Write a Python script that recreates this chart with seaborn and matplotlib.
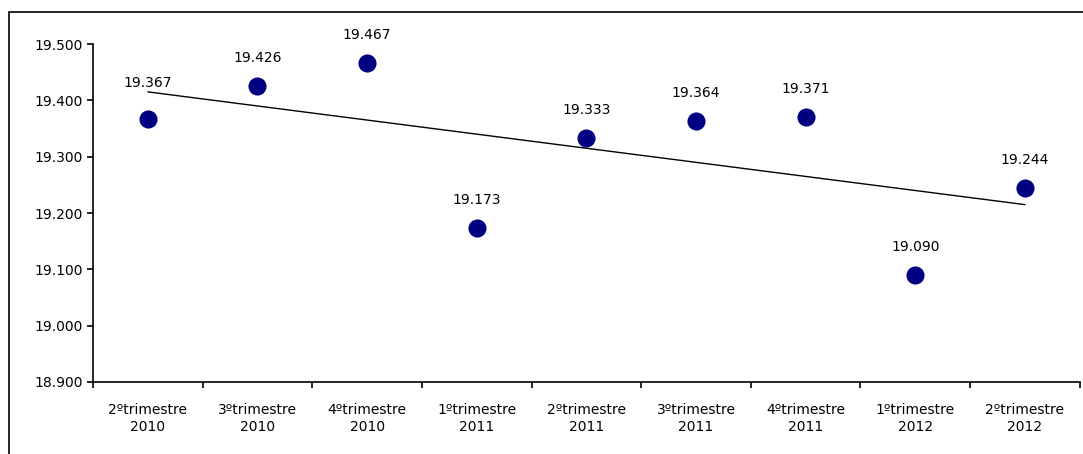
import numpy as np
import pandas as pd
import matplotlib
matplotlib.use("Agg")
import matplotlib.pyplot as plt
import seaborn as sns
from matplotlib.patches import Rectangle

# data
quarters = ["2ºtrimestre\n2010", "3ºtrimestre\n2010", "4ºtrimestre\n2010",
            "1ºtrimestre\n2011", "2ºtrimestre\n2011", "3ºtrimestre\n2011",
            "4ºtrimestre\n2011", "1ºtrimestre\n2012", "2ºtrimestre\n2012"]
values = [19.367, 19.426, 19.467, 19.173, 19.333, 19.364, 19.371, 19.090, 19.244]
y_ticks = [18.9, 19.0, 19.1, 19.2, 19.3, 19.4, 19.5]

df = pd.DataFrame({"pos": np.arange(len(quarters)), "quarter": quarters, "value": values})

sns.set_theme(style="white")
plt.rcParams["font.family"] = ["DejaVu Sans"]
plt.rcParams["text.color"] = "black"
plt.rcParams["xtick.color"] = "black"
plt.rcParams["ytick.color"] = "black"

fig = plt.figure(figsize=(10.83, 4.54), dpi=100)
ax = fig.add_axes([0.0859, 0.1586, 0.911, 0.7444])

# outer frame of the chart area
fig.patches.append(Rectangle((9 / 1083, -0.2), 1.2, 1.2 - 12 / 454,
                             transform=fig.transFigure, fill=False,
                             edgecolor="black", linewidth=1.2))

# linear trend line
sns.regplot(data=df, x="pos", y="value", scatter=False, ci=None, ax=ax,
            line_kws={"color": "black", "linewidth": 1.0}, truncate=True)

sns.scatterplot(data=df, x="pos", y="value", ax=ax, s=170, color="#000080",
                edgecolor="#000080", linewidth=0, zorder=3)

for i, (x, v) in enumerate(zip(df["pos"], df["value"])):
    # first label sits a bit higher so it clears the trend line
    off = 21 if i == 0 else 15
    ax.annotate(f"{v:.3f}", (x, v), xytext=(0, off), textcoords="offset points",
                ha="center", va="bottom", fontsize=10, color="black")

ax.set_xlim(-0.5, len(quarters) - 0.5)
ax.set_ylim(18.9, 19.5)
ax.set_yticks(y_ticks)
ax.set_yticklabels([f"{t:.3f}" for t in y_ticks], fontsize=10)

# Excel-style: ticks on category boundaries, labels between
ax.set_xticks(np.arange(-0.5, len(quarters), 1.0))
ax.set_xticklabels([])
ax.set_xticks(np.arange(len(quarters)), minor=True)
ax.set_xticklabels(quarters, minor=True, fontsize=10, linespacing=1.3)
ax.tick_params(axis="x", which="major", bottom=True, direction="out",
               length=4.5, width=1.2, color="black")
ax.tick_params(axis="x", which="minor", bottom=True, length=0, pad=15)
ax.tick_params(axis="y", left=True, direction="out", length=4.5, width=1.2,
               color="black", pad=3)

ax.set_xlabel("")
ax.set_ylabel("")
sns.despine(ax=ax)
for side in ["left", "bottom"]:
    ax.spines[side].set_color("black")
    ax.spines[side].set_linewidth(1.2)

fig.savefig("out.png", dpi=100)
